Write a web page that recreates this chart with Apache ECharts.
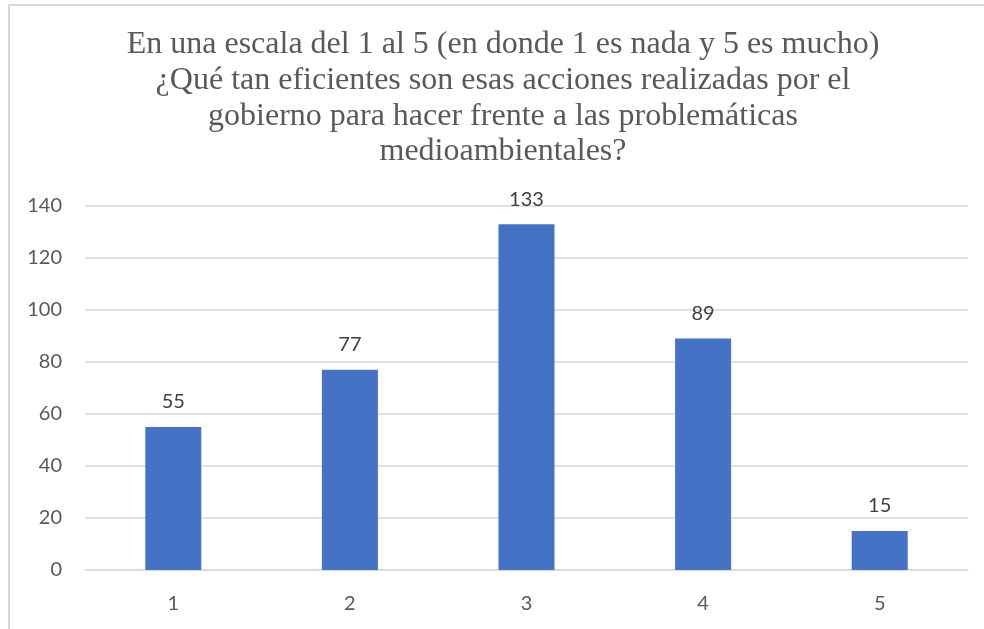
<!DOCTYPE html>
<html>
<head>
<meta charset="utf-8">
<style>
  html, body { margin: 0; padding: 0; background: #fff; }
  #chart { width: 984px; height: 629px; }
</style>
<script src="https://cdn.jsdelivr.net/npm/echarts@6/dist/echarts.min.js"></script>
</head>
<body>
<div id="chart"></div>
<script>
// datos
const titleLines = [
  'En una escala del 1 al 5 (en donde 1 es nada y 5 es mucho)',
  '¿Qué tan eficientes son esas acciones realizadas por el',
  'gobierno para hacer frente a las problemáticas',
  'medioambientales?'
];
const categories = ['1', '2', '3', '4', '5'];
const values = [55, 77, 133, 89, 15];
const yTicks = [0, 20, 40, 60, 80, 100, 120, 140];

const chart = echarts.init(document.getElementById('chart'));
chart.setOption({
  animation: false,
  graphic: [{
    type: 'rect',
    shape: { x: 9, y: 5, width: 990, height: 700 },
    style: { fill: 'none', stroke: '#d9d9d9', lineWidth: 2 },
    silent: true
  }],
  title: {
    text: titleLines.join('\n'),
    left: 498,
    textAlign: 'center',
    top: 22,
    textStyle: {
      fontFamily: 'Liberation Serif',
      fontWeight: 'normal',
      fontSize: 32,
      lineHeight: 35.7,
      color: '#595959'
    }
  },
  grid: { left: 85, right: 16, top: 206, bottom: 59 },
  xAxis: {
    type: 'category',
    data: categories,
    axisLine: { lineStyle: { color: '#d9d9d9', width: 1.5 } },
    axisTick: { show: false },
    axisLabel: { margin: 24, fontFamily: 'Lato', fontSize: 20, color: '#595959' }
  },
  yAxis: {
    type: 'value',
    min: yTicks[0],
    max: yTicks[yTicks.length - 1],
    interval: 20,
    axisLine: { show: false },
    axisTick: { show: false },
    axisLabel: { margin: 23, fontFamily: 'Lato', fontSize: 20, color: '#595959' },
    splitLine: { lineStyle: { color: '#d9d9d9', width: 1.5 } }
  },
  series: [{
    type: 'bar',
    data: values,
    barWidth: 56,
    itemStyle: { color: '#4472c4' },
    label: {
      show: true,
      position: 'top',
      distance: 15,
      fontFamily: 'Lato',
      fontSize: 20,
      color: '#404040'
    }
  }]
});
</script>
</body>
</html>
